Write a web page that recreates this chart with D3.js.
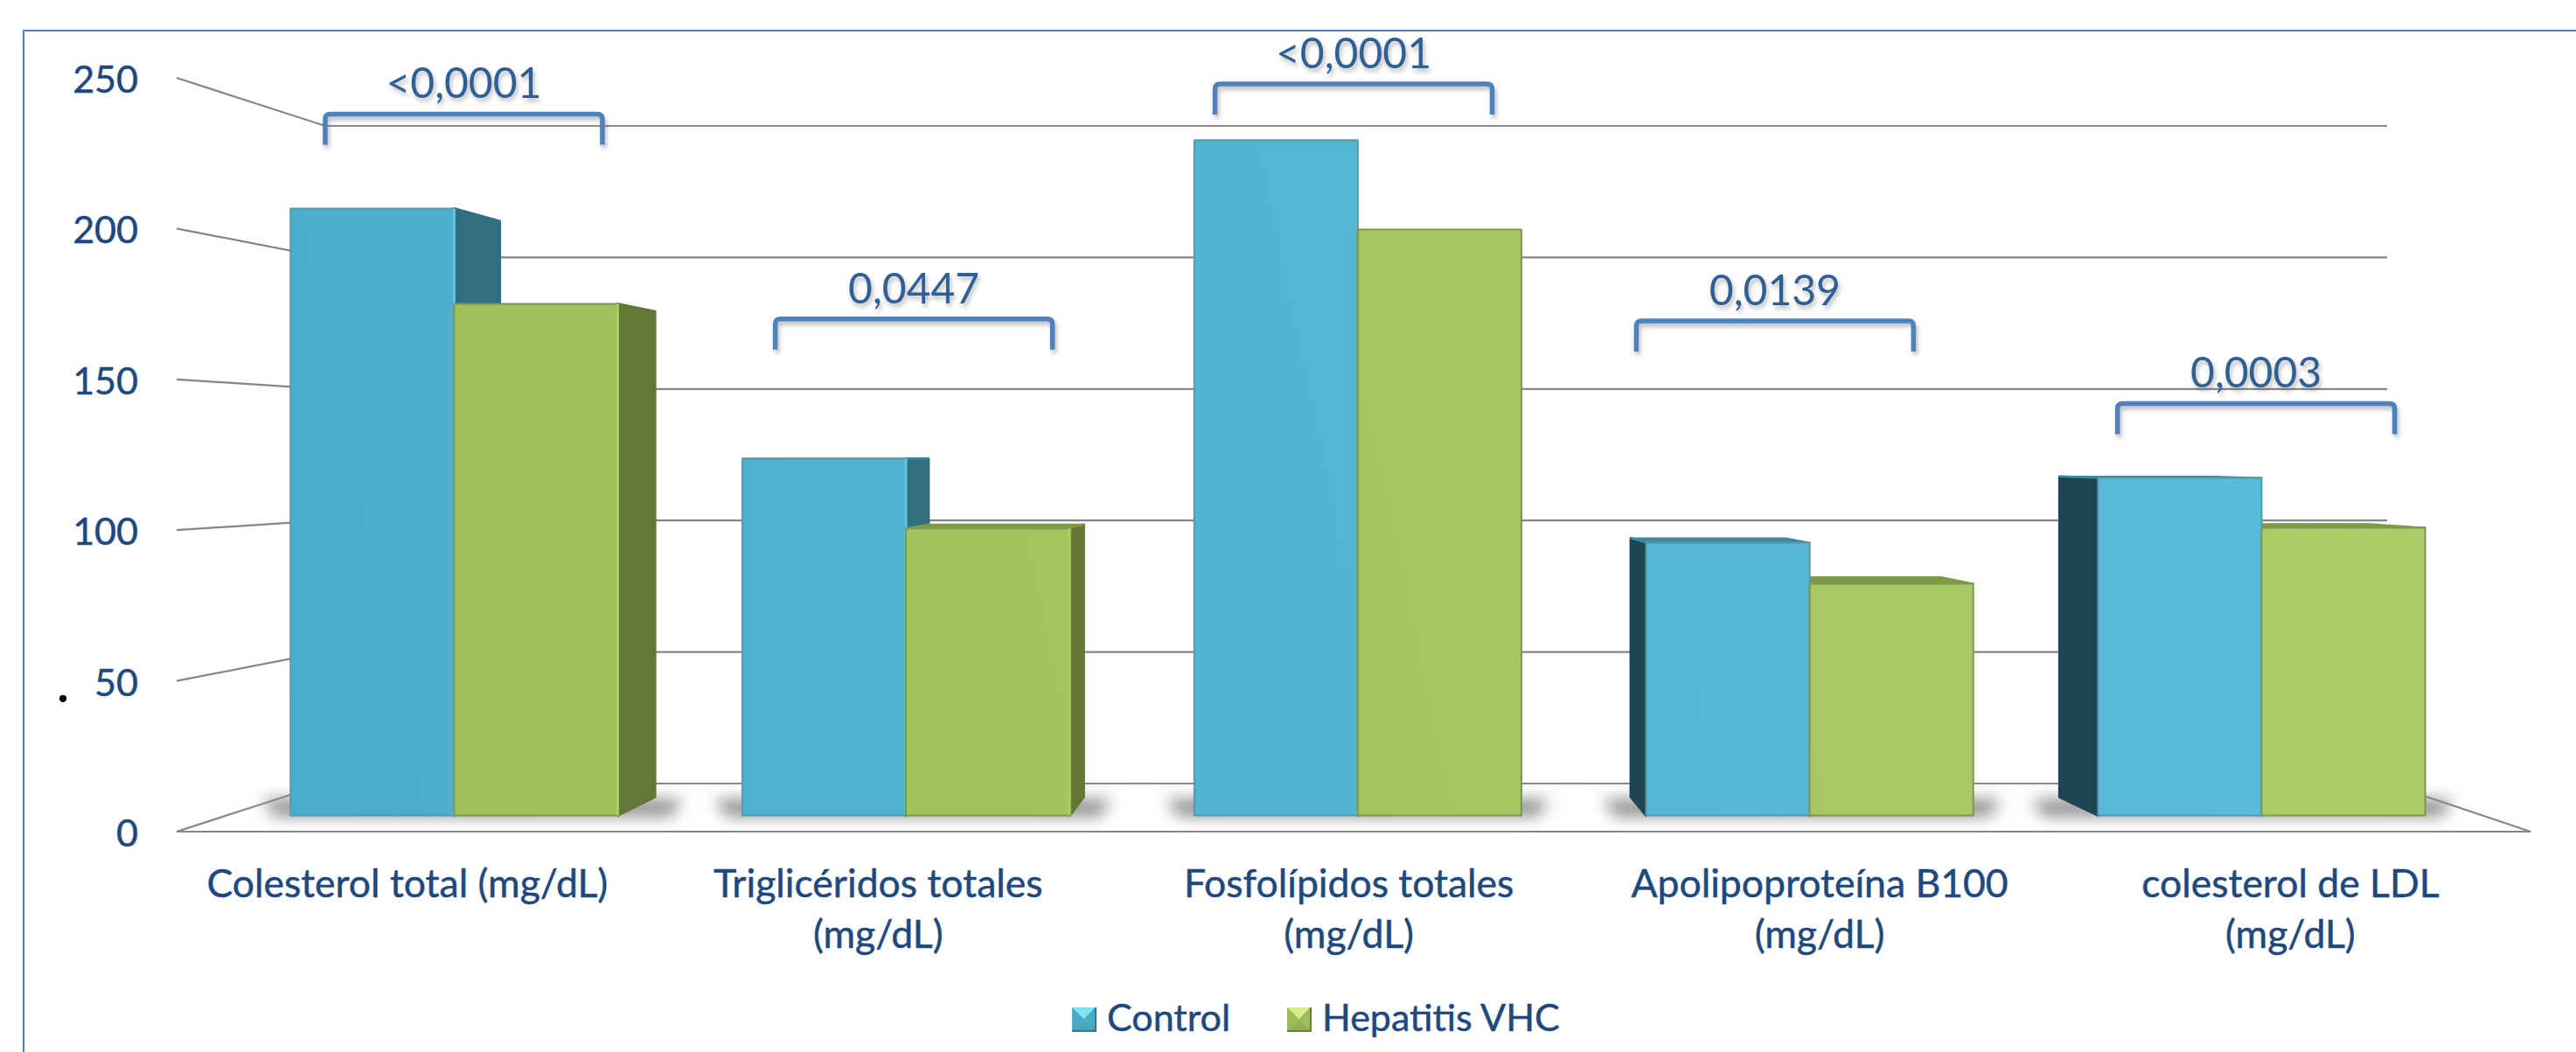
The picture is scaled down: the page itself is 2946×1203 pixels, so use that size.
<!DOCTYPE html>
<html>
<head>
<meta charset="utf-8">
<script src="https://cdn.jsdelivr.net/npm/d3@7"></script>
<style>
  html, body { margin: 0; padding: 0; background: #fff; overflow: hidden; }
  text { font-family: Lato, "Open Sans", sans-serif; }
</style>
</head>
<body>
<div id="chart"></div>
<script>
// Data
const categories = [
  ["Colesterol total (mg/dL)"],
  ["Triglicéridos totales", "(mg/dL)"],
  ["Fosfolípidos totales", "(mg/dL)"],
  ["Apolipoproteína B100", "(mg/dL)"],
  ["colesterol de LDL", "(mg/dL)"]
];
const seriesNames = ["Control", "Hepatitis VHC"];
const control = [210.3, 123.6, 234, 94.5, 117];
const hepatitis = [177.3, 99.5, 203, 80.3, 99.7];
const yTicks = [0, 50, 100, 150, 200, 250];
const pValues = ["<0,0001", "0,0447", "<0,0001", "0,0139", "0,0003"];
const pLevels = [238, 170, 248, 169.4, 142];
const pCenters = [0.61, 1.566, 2.5, 3.395, 4.417];

const width = 2946;
const height = 1203;

const svg = d3.select("#chart")
  .append("svg")
  .attr("width", width)
  .attr("height", height);

const defs = svg.append("defs");

// soft shadow under the p value labels and brackets
const soft = defs.append("filter").attr("id", "soft")
  .attr("x", "-20%").attr("y", "-30%").attr("width", "140%").attr("height", "170%");
soft.append("feDropShadow")
  .attr("dx", 2).attr("dy", 4).attr("stdDeviation", 2.5)
  .attr("flood-color", "#555").attr("flood-opacity", 0.4);

defs.append("filter").attr("id", "blur")
  .attr("x", "-20%").attr("y", "-80%").attr("width", "140%").attr("height", "260%")
  .append("feGaussianBlur").attr("stdDeviation", 9);

// front faces get a little lighter towards the upper right of the chart
const faceGradient = (id, from, to) => {
  const g = defs.append("linearGradient").attr("id", id)
    .attr("gradientUnits", "userSpaceOnUse")
    .attr("x1", 300).attr("y1", 900).attr("x2", 2700).attr("y2", 400);
  g.append("stop").attr("offset", 0).attr("stop-color", from);
  g.append("stop").attr("offset", 1).attr("stop-color", to);
};
faceGradient("faceControl", "#4AADC9", "#5ABDDA");
faceGradient("faceHepatitis", "#9EBE5A", "#ACCC69");

const seriesStyle = [
  { values: control, front: "url(#faceControl)", edge: "#5B98A8", right: "#316E80", left: "#1F4550", top: "#3F8A9F", shine: "#5CC3DF" },
  { values: hepatitis, front: "url(#faceHepatitis)", edge: "#7D9650", right: "#637736", left: "#4A5A28", top: "#7E9A45", shine: "#ABD05E" }
];

// Scales
// front edge of the floor and the back wall are two flat planes
const yFront = d3.scaleLinear().domain([0, 250]).range([951, 89]);
const yBack = d3.scaleLinear().domain([0, 250]).range([896, 144]);
const xFront = d3.scaleLinear().domain([0, 5]).range([202, 2894]);
const xBack = d3.scaleLinear().domain([0, 5]).range([372, 2730]);
const xBar = d3.scaleLinear().domain([0, 5]).range([204, 2904]);

// perspective for the bars
const vp = { x: 1540, y: 520 };
const depthFront = 0.957;
const depthBack = 0.908;
const project = (c, v, s) => [
  vp.x + s * (xBar(c) - vp.x),
  vp.y + s * (yFront(v) - vp.y)
];

const barStart = 0.137;
const barWidth = 0.362;

// Frame, only top and left are in the picture
svg.append("path")
  .attr("d", `M${width},35H27V${height}`)
  .attr("fill", "none")
  .attr("stroke", "#4F81BD")
  .attr("stroke-width", 2);

// Walls and floor
const grid = svg.append("g").attr("fill", "none").attr("stroke", "#868686").attr("stroke-width", 2.2);
grid.selectAll(".wall")
  .data(yTicks)
  .enter()
  .append("path")
  .attr("class", "wall")
  .attr("d", d => d3.line()([
    [xFront(0), yFront(d)],
    [xBack(0), yBack(d)],
    [xBack(5), yBack(d)]
  ]));
grid.append("path")
  .attr("d", d3.line()([
    [xBack(5), yBack(0)],
    [xFront(5), yFront(0)],
    [xFront(0), yFront(0)]
  ]));

// Floor shadows
const polygon = pts => d3.line().curve(d3.curveLinearClosed)(pts);

svg.append("g").attr("filter", "url(#blur)")
  .selectAll("path")
  .data(categories)
  .enter()
  .append("path")
  .attr("fill", "#8A8A8A")
  .attr("d", (d, i) => {
    const c0 = i + barStart;
    const c1 = c0 + 2 * barWidth;
    const xs = [project(c0, 0, depthFront)[0], project(c0, 0, depthBack)[0],
                project(c1, 0, depthFront)[0], project(c1, 0, depthBack)[0]];
    const yTop = project(c0, 0, depthBack)[1] + 3;
    const yBottom = project(c0, 0, depthFront)[1] + 1;
    const left = d3.min(xs) - 42;
    const right = d3.max(xs) + 42;
    return polygon([[left + 10, yTop], [right - 10, yTop], [right - 24, yBottom], [left + 24, yBottom]]);
  });

// Bars
const groups = svg.selectAll(".group")
  .data(categories)
  .enter()
  .append("g")
  .attr("class", "group")
  .attr("stroke-linejoin", "round");

groups.each(function (d, i) {
  const g = d3.select(this);
  const faces = seriesStyle.map((st, k) => {
    const c0 = i + barStart + k * barWidth;
    return { st, c0, c1: c0 + barWidth, v: st.values[i] };
  });

  // hidden faces first, they end up behind the front faces
  faces.forEach(f => {
    const frontLeft = project(f.c0, 0, depthFront)[0];
    const frontRight = project(f.c1, 0, depthFront)[0];
    if (frontRight < vp.x) {
      g.append("path")
        .attr("d", polygon([
          project(f.c1, 0, depthFront), project(f.c1, 0, depthBack),
          project(f.c1, f.v, depthBack), project(f.c1, f.v, depthFront)
        ]))
        .attr("fill", f.st.right).attr("stroke", f.st.right).attr("stroke-width", 3);
    }
    if (frontLeft > vp.x) {
      g.append("path")
        .attr("d", polygon([
          project(f.c0, 0, depthFront), project(f.c0, 0, depthBack),
          project(f.c0, f.v, depthBack), project(f.c0, f.v, depthFront)
        ]))
        .attr("fill", f.st.left).attr("stroke", f.st.left).attr("stroke-width", 3);
    }
    if (project(f.c0, f.v, depthFront)[1] > vp.y) {
      g.append("path")
        .attr("d", polygon([
          project(f.c0, f.v, depthFront), project(f.c0, f.v, depthBack),
          project(f.c1, f.v, depthBack), project(f.c1, f.v, depthFront)
        ]))
        .attr("fill", f.st.top).attr("stroke", f.st.top).attr("stroke-width", 2);
    }
  });

  faces.forEach(f => {
    g.append("path")
      .attr("d", polygon([
        project(f.c0, 0, depthFront), project(f.c0, f.v, depthFront),
        project(f.c1, f.v, depthFront), project(f.c1, 0, depthFront)
      ]))
      .attr("fill", f.st.front).attr("stroke", f.st.edge).attr("stroke-width", 2);
    if (project(f.c1, 0, depthFront)[0] < vp.x) {
      g.append("path")
        .attr("d", d3.line()([project(f.c1, 0, depthFront), project(f.c1, f.v, depthFront)]))
        .attr("stroke", f.st.shine).attr("stroke-width", 3);
    }
  });
});

// Axis labels
svg.append("g")
  .attr("fill", "#1F497D")
  .attr("stroke", "#1F497D")
  .attr("stroke-width", 0.5)
  .attr("font-size", 43)
  .attr("text-anchor", "end")
  .selectAll("text")
  .data(yTicks)
  .enter()
  .append("text")
  .attr("x", 158)
  .attr("y", d => yFront(d) + 17)
  .text(d => d);

const catLabels = svg.append("g")
  .attr("fill", "#1F497D")
  .attr("stroke", "#1F497D")
  .attr("stroke-width", 0.5)
  .attr("font-size", 44.5)
  .attr("text-anchor", "middle")
  .selectAll("text")
  .data(categories)
  .enter()
  .append("text")
  .attr("y", 1026);
catLabels.selectAll("tspan")
  .data((d, i) => d.map(line => ({ line, i })))
  .enter()
  .append("tspan")
  .attr("x", d => xFront(d.i + 0.49))
  .attr("dy", (d, j) => j ? 58 : 0)
  .text(d => d.line);

// stray dot that sits next to the 50 label
svg.append("text")
  .attr("x", 72)
  .attr("y", 803)
  .attr("text-anchor", "middle")
  .attr("font-size", 55)
  .attr("font-weight", 700)
  .attr("fill", "#000")
  .text(".");

// p value brackets
const halfSpan = 158.5;
const bracketDrop = 35;
const brackets = svg.selectAll(".bracket")
  .data(pValues)
  .enter()
  .append("g")
  .attr("class", "bracket")
  .attr("filter", "url(#soft)");

brackets.append("path")
  .attr("fill", "none")
  .attr("stroke", "#4F81BD")
  .attr("stroke-width", 5.5)
  .attr("d", (d, i) => {
    const cx = xFront(pCenters[i]);
    const y = yFront(pLevels[i]);
    const x0 = cx - halfSpan;
    const x1 = cx + halfSpan;
    return `M${x0},${y + bracketDrop}V${y + 6}Q${x0},${y} ${x0 + 6},${y}H${x1 - 6}Q${x1},${y} ${x1},${y + 6}V${y + bracketDrop}`;
  });

brackets.append("text")
  .attr("x", (d, i) => xFront(pCenters[i]))
  .attr("y", (d, i) => yFront(pLevels[i]) - 18)
  .attr("text-anchor", "middle")
  .attr("font-size", 48)
  .attr("fill", "#2F5F95")
  .text(d => d);

// Legend
const legendX = [1226, 1472];
const legendBevel = [
  { top: "#7FE4F8", side: "#4BAAC6", bottom: "#48A5BF", mid: "#4FB2CE", edge: "#35788C" },
  { top: "#D9EC8B", side: "#9DBC5B", bottom: "#94B254", mid: "#A3C25F", edge: "#667C3A" }
];
const swatchSize = 27;
const legend = svg.selectAll(".legend")
  .data(seriesNames)
  .enter()
  .append("g")
  .attr("class", "legend")
  .attr("transform", (d, i) => `translate(${legendX[i]},1152)`);

legend.append("rect")
  .attr("width", swatchSize).attr("height", swatchSize)
  .attr("fill", (d, i) => legendBevel[i].mid);
legend.append("path")
  .attr("d", polygon([[0, 0], [swatchSize, 0], [swatchSize / 2, swatchSize / 2]]))
  .attr("fill", (d, i) => legendBevel[i].top);
legend.append("path")
  .attr("d", polygon([[0, swatchSize], [swatchSize, swatchSize], [swatchSize / 2, swatchSize / 2]]))
  .attr("fill", (d, i) => legendBevel[i].bottom);
legend.append("path")
  .attr("d", polygon([[0, 0], [0, swatchSize], [swatchSize / 2, swatchSize / 2]]))
  .attr("fill", (d, i) => legendBevel[i].side);
legend.append("path")
  .attr("d", polygon([[swatchSize, 0], [swatchSize, swatchSize], [swatchSize / 2, swatchSize / 2]]))
  .attr("fill", (d, i) => legendBevel[i].side);
legend.append("path")
  .attr("d", `M0,${swatchSize}H${swatchSize}V0`)
  .attr("fill", "none")
  .attr("stroke-width", 2)
  .attr("stroke", (d, i) => legendBevel[i].edge);
legend.append("text")
  .attr("x", swatchSize + 13)
  .attr("y", swatchSize)
  .attr("font-size", 43)
  .attr("stroke", "#1F497D")
  .attr("stroke-width", 0.5)
  .attr("fill", "#1F497D")
  .text(d => d);
</script>
</body>
</html>
